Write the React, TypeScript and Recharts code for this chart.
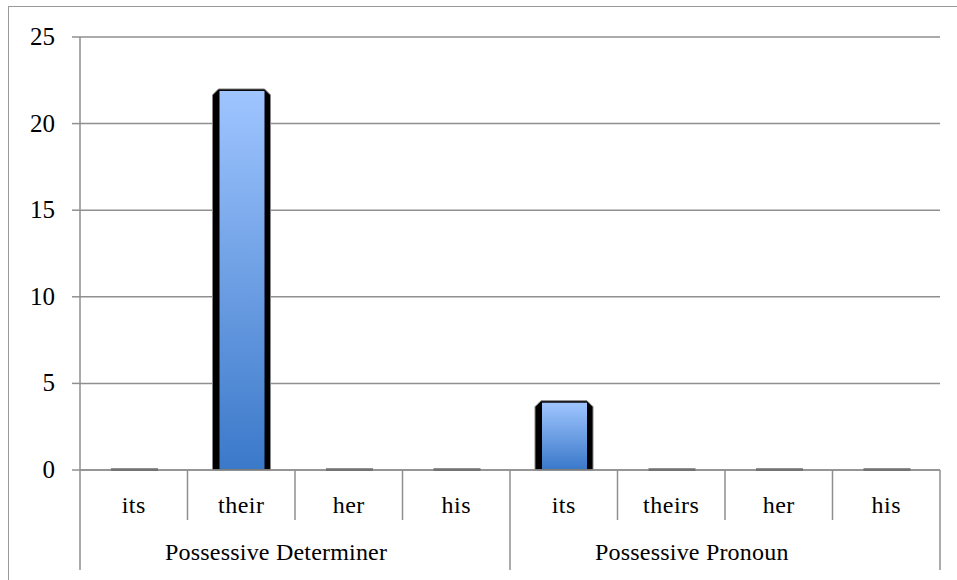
import React from "react";
import { BarChart, Bar, XAxis, YAxis, CartesianGrid } from "recharts";

const categories = ["its", "their", "her", "his", "its", "theirs", "her", "his"];
const groups = [
  "Possessive Determiner",
  "Possessive Determiner",
  "Possessive Determiner",
  "Possessive Determiner",
  "Possessive Pronoun",
  "Possessive Pronoun",
  "Possessive Pronoun",
  "Possessive Pronoun",
];
const values = [0, 22, 0, 0, 4, 0, 0, 0];
const yTicks = [0, 5, 10, 15, 20, 25];

const data = categories.map((label, i) => ({ label, group: groups[i], value: values[i] }));

const W = 957;
const H = 580;
const MARGIN = { top: 37, right: 17, bottom: 0, left: 0 };
const YAXIS_W = 80;
const XAXIS_H = 60;
const GROUP_H = 50;
const PLOT_LEFT = MARGIN.left + YAXIS_W;
const PLOT_W = W - PLOT_LEFT - MARGIN.right;
const PLOT_BOTTOM = H - XAXIS_H - GROUP_H;
const BAND = PLOT_W / categories.length;
const GROUP_W = BAND * 4;
const GRID = "#8f8f8f";
const FONT = "'Liberation Serif', 'DejaVu Serif', serif";

const CategoryTick = (props: any) => {
  const { x, index } = props;
  const left = x - BAND / 2;
  const right = x + BAND / 2;
  const lines: React.ReactNode[] = [];
  const leftLen = index % 4 === 0 ? 100 : 50;
  lines.push(
    <line key="l" x1={left} x2={left} y1={PLOT_BOTTOM} y2={PLOT_BOTTOM + leftLen} stroke={GRID} strokeWidth={1.5} />
  );
  if (index === categories.length - 1) {
    lines.push(
      <line key="r" x1={right} x2={right} y1={PLOT_BOTTOM} y2={PLOT_BOTTOM + 100} stroke={GRID} strokeWidth={1.5} />
    );
  }
  return (
    <g>
      {lines}
      <text
        x={x}
        y={PLOT_BOTTOM + 43}
        textAnchor="middle"
        fontFamily={FONT}
        fontSize={24}
        letterSpacing={0.5}
        fill="#000"
      >
        {props.payload.value}
      </text>
    </g>
  );
};

const GroupTick = (props: any) => {
  const { x } = props;
  return (
    <text
      x={x - GROUP_W / 2 + 85}
      y={PLOT_BOTTOM + 90}
      textAnchor="start"
      fontFamily={FONT}
      fontSize={24}
      letterSpacing={0.2}
      fill="#000"
    >
      {props.payload.value}
    </text>
  );
};

const YTick = (props: any) => {
  const { x, y, payload } = props;
  return (
    <text x={x} y={y} dy={8} textAnchor="end" fontFamily={FONT} fontSize={25} fill="#000">
      {payload.value}
    </text>
  );
};

const BevelBar = (props: any) => {
  const { x, y, width, height } = props;
  if (!height || height <= 0.5) {
    return <rect x={x + 6} y={y - 1.5} width={width - 11} height={2.5} fill="#222" />;
  }
  const c = 6;
  const d = `M${x},${y + c} L${x + c},${y} L${x + width - c},${y} L${x + width},${y + c} L${x + width},${y + height} L${x},${y + height} Z`;
  return (
    <g>
      <path d={d} fill="#000" stroke="#888" strokeWidth={1} />
      <rect x={x + 7} y={y + 2} width={width - 13} height={height - 3} fill="url(#barGrad)" />
    </g>
  );
};

export default function App() {
  return (
    <div style={{ position: "absolute", left: 0, top: 0, width: W, height: H, overflow: "hidden", background: "#fff" }}>
      <div
        style={{
          position: "absolute",
          left: 8,
          top: 6,
          width: 1200,
          height: 1200,
          border: "1.5px solid #9a9a9a",
          boxSizing: "border-box",
        }}
      />
      <div style={{ position: "absolute", left: 0, top: 0 }}>
        <BarChart width={W} height={H} data={data} margin={MARGIN} barSize={58}>
          <defs>
            <linearGradient id="barGrad" x1="0" y1="0" x2="0" y2="1">
              <stop offset="0%" stopColor="#9fc5ff" />
              <stop offset="100%" stopColor="#3b79c9" />
            </linearGradient>
          </defs>
          <CartesianGrid vertical={false} stroke={GRID} strokeWidth={1.5} />
          <XAxis
            dataKey="label"
            xAxisId={0}
            height={XAXIS_H}
            interval={0}
            axisLine={{ stroke: GRID, strokeWidth: 1.5 }}
            tickLine={false}
            tick={<CategoryTick />}
          />
          <XAxis
            dataKey="group"
            xAxisId="group"
            height={GROUP_H}
            allowDuplicatedCategory={false}
            interval={0}
            axisLine={false}
            tickLine={false}
            tick={<GroupTick />}
          />
          <YAxis
            width={YAXIS_W}
            domain={[0, 25]}
            ticks={yTicks}
            interval={0}
            tickSize={8}
            tickMargin={17}
            axisLine={{ stroke: GRID, strokeWidth: 1.5 }}
            tickLine={{ stroke: GRID, strokeWidth: 1.5 }}
            tick={<YTick />}
          />
          <Bar dataKey="value" xAxisId={0} shape={<BevelBar />} isAnimationActive={false} />
        </BarChart>
      </div>
    </div>
  );
}
